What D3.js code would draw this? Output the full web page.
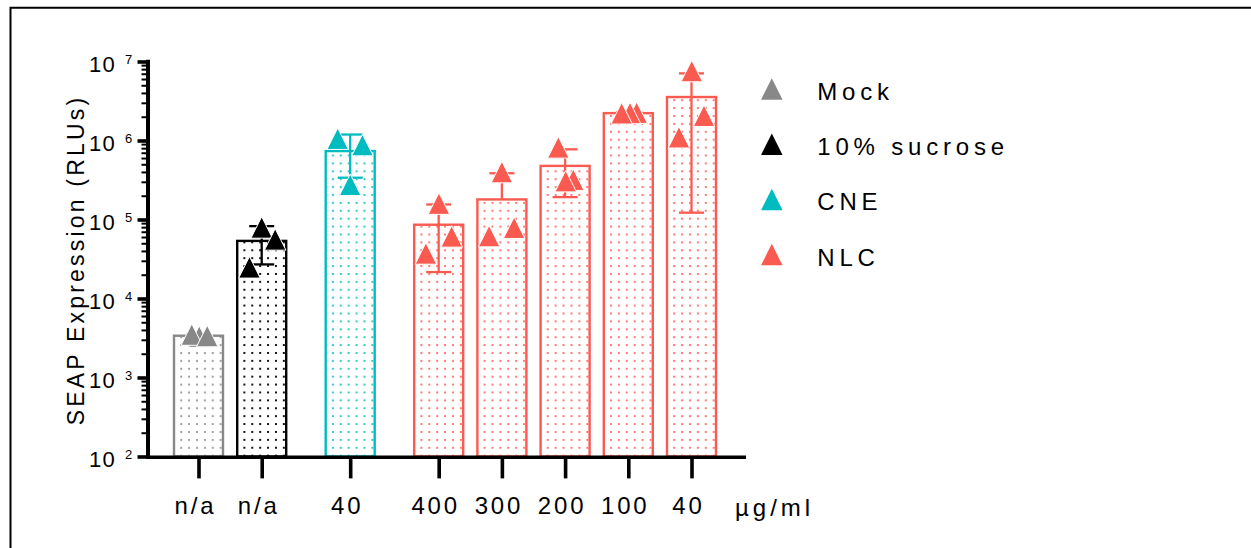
<!DOCTYPE html>
<html>
<head>
<meta charset="utf-8">
<script src="https://cdn.jsdelivr.net/npm/d3@7"></script>
<style>
  html, body { margin: 0; padding: 0; background: #fff; }
  svg { display: block; }
  text { font-family: "Liberation Sans", Arial, Helvetica, sans-serif; fill: #000; }
</style>
</head>
<body>
<svg id="chart" width="1251" height="548"></svg>
<script>
// ---------------- data ----------------
const categories = ["n/a", "n/a", "40", "400", "300", "200", "100", "40"];
const barSeries  = ["Mock", "10% sucrose", "CNE", "NLC", "NLC", "NLC", "NLC", "NLC"];
const barGroup   = [0, 0, 1, 2, 2, 2, 2, 2];
const barValues  = [3380, 53600, 735000, 85900, 179500, 477000, 2220000, 3550000];
const errHigh    = [3480, 82400, 1190000, 155000, 385000, 773000, 2270000, 7070000];
const errLow     = [3280, 27000, 338000, 21600, null, 192000, 2170000, 122000];
const pointValues = [
  [3300, 3500, 3350],
  [79400, 56000, 24800],
  [1054000, 875000, 275000],
  [159000, 61100, 37200],
  [398000, 61600, 78700],
  [818000, 319000, 306000],
  [2250000, 2230000, 2210000],
  [7570000, 2060000, 1100000]
];
const pointJitter = [
  [0.06, -0.54, 0.7],
  [0, 1.08, -0.98],
  [-1, 0.98, 0],
  [0.02, 1.04, -1.02],
  [0, -1.02, 0.98],
  [-0.54, 0.66, 0.05],
  [0.67, 0.14, -0.53],
  [0.02, 1.0, -1.0]
];
const legendNames = ["Mock", "10% sucrose", "CNE", "NLC"];
const yTickExponents = [2, 3, 4, 5, 6, 7];
const unitLabel = "\u00b5g/ml";
const yTitle = "SEAP Expression (RLUs)";

// ---------------- styles ----------------
const colors = { "Mock": "#888888", "10% sucrose": "#000000", "CNE": "#00BCC0", "NLC": "#FA5A50" };

const svg = d3.select("#chart");

// frame
svg.append("path")
  .attr("d", "M10.5,560 V7.7 H1260")
  .attr("fill", "none").attr("stroke", "#000").attr("stroke-width", 2);

// scales
const gapFrac = 0.4;
const positions = categories.map((c, i) => i + barGroup[i] * gapFrac);
const x = d3.scaleLinear().domain([0, d3.max(positions)]).range([198.5, 691.5]);
const y = d3.scaleLog().domain([1e2, 1e7]).range([456.5, 61.5]);
const barW = 49;
const jitterUnit = 12.5;
const axisX = 148;
const baseY = 457.3;

// patterns
const defs = svg.append("defs");
positions.forEach((p, i) => {
  const left = x(p) - barW / 2;
  const pat = defs.append("pattern")
    .attr("id", "dots" + i)
    .attr("patternUnits", "userSpaceOnUse")
    .attr("x", left + 4.2).attr("y", 456.5 - 3.8)
    .attr("width", 7.9).attr("height", 7.9);
  pat.append("rect").attr("width", 7.9).attr("height", 7.9).attr("fill", "#fff");
  const blk = barSeries[i] === "10% sucrose";
  pat.append("rect").attr("x", 2).attr("y", 2)
    .attr("width", blk ? 1.9 : 2).attr("height", blk ? 1.9 : 2)
    .attr("fill", colors[barSeries[i]])
    .attr("fill-opacity", blk ? 1 : 0.8);
});

// bars
const gBars = svg.append("g");
positions.forEach((p, i) => {
  const c = colors[barSeries[i]];
  gBars.append("rect")
    .attr("x", x(p) - barW / 2)
    .attr("y", y(barValues[i]))
    .attr("width", barW)
    .attr("height", y(1e2) - y(barValues[i]))
    .attr("fill", "url(#dots" + i + ")")
    .attr("stroke", c)
    .attr("stroke-width", 2.4);
});

// error bars
const gErr = svg.append("g");
const capW = 25;
positions.forEach((p, i) => {
  const c = colors[barSeries[i]];
  const cx = x(p);
  const lowV = errLow[i] == null ? barValues[i] : errLow[i];
  gErr.append("line").attr("x1", cx).attr("x2", cx)
    .attr("y1", y(lowV)).attr("y2", y(errHigh[i]))
    .attr("stroke", c).attr("stroke-width", 2.3);
  gErr.append("line").attr("x1", cx - capW / 2).attr("x2", cx + capW / 2)
    .attr("y1", y(errHigh[i])).attr("y2", y(errHigh[i]))
    .attr("stroke", c).attr("stroke-width", 2.3);
  if (errLow[i] != null) {
    gErr.append("line").attr("x1", cx - capW / 2).attr("x2", cx + capW / 2)
      .attr("y1", y(errLow[i])).attr("y2", y(errLow[i]))
      .attr("stroke", c).attr("stroke-width", 2.3);
  }
});

// points
const triW = 21.5, triH = 21.5;
const triPath = `M0,${-triH / 2} L${triW / 2},${triH / 2} L${-triW / 2},${triH / 2} Z`;
const gPts = svg.append("g");
positions.forEach((p, i) => {
  const c = colors[barSeries[i]];
  pointValues[i].forEach((v, j) => {
    gPts.append("path")
      .attr("d", triPath)
      .attr("transform", `translate(${x(p) + pointJitter[i][j] * jitterUnit},${y(v)})`)
      .attr("fill", c)
      .attr("stroke", "#fff").attr("stroke-width", 1);
  });
});

// y axis ticks
const majors = yTickExponents.map(e => Math.pow(10, e));
const minors = [];
for (let e = 2; e < 7; e++) for (let k = 2; k <= 9; k++) minors.push(k * Math.pow(10, e));

const gyMinor = svg.append("g").attr("transform", `translate(${axisX},0)`)
  .call(d3.axisLeft(y).tickValues(minors).tickSize(6.5).tickSizeOuter(0).tickFormat(""));
gyMinor.select(".domain").remove();
gyMinor.selectAll(".tick line").attr("stroke", "#000").attr("stroke-width", 2);

const gyMajor = svg.append("g").attr("transform", `translate(${axisX},0)`)
  .call(d3.axisLeft(y).tickValues(majors).tickSize(10.5).tickSizeOuter(0).tickFormat(""));
gyMajor.select(".domain").remove();
gyMajor.selectAll(".tick line").attr("stroke", "#000").attr("stroke-width", 3.6);

// axis lines
svg.append("line").attr("x1", axisX).attr("x2", axisX).attr("y1", 59.7).attr("y2", baseY + 1.7)
  .attr("stroke", "#000").attr("stroke-width", 4);
svg.append("line").attr("x1", axisX - 2).attr("x2", 746).attr("y1", baseY).attr("y2", baseY)
  .attr("stroke", "#000").attr("stroke-width", 3.4);

// y tick labels
const gyl = svg.append("g");
yTickExponents.forEach(e => {
  const ty = y(Math.pow(10, e));
  gyl.append("text").attr("x", 89).attr("y", ty + 10.4)
    .attr("font-size", 22).attr("letter-spacing", 1.2).text("10");
  gyl.append("text").attr("x", 125).attr("y", ty + 2)
    .attr("font-size", 13).text(String(e));
});

// x axis ticks
const gx = svg.append("g").attr("transform", `translate(0,${baseY + 1.6})`)
  .call(d3.axisBottom(x).tickValues(positions).tickSize(19.5).tickSizeOuter(0).tickFormat(""));
gx.select(".domain").remove();
gx.selectAll(".tick line").attr("stroke", "#000").attr("stroke-width", 3.6);

// x labels
const gxl = svg.append("g");
positions.forEach((p, i) => {
  gxl.append("text").attr("x", x(p) - 3).attr("y", 513.5)
    .attr("text-anchor", "middle").attr("font-size", 24).attr("letter-spacing", 2.8)
    .text(categories[i]);
});
svg.append("text").attr("x", 735).attr("y", 516)
  .attr("font-size", 24).attr("letter-spacing", 4).text(unitLabel);

// y title
svg.append("text")
  .attr("transform", "translate(83.5,260) rotate(-90)")
  .attr("text-anchor", "middle").attr("font-size", 23).attr("letter-spacing", 3.2)
  .text(yTitle);

// legend
const gLeg = svg.append("g");
legendNames.forEach((n, i) => {
  const cy = 89 + i * 55.2;
  gLeg.append("path").attr("d", triPath)
    .attr("transform", `translate(771.8,${cy})`)
    .attr("fill", colors[n]);
  gLeg.append("text").attr("x", 817.3).attr("y", cy + 11)
    .attr("font-size", 24).attr("letter-spacing", 4.8).text(n);
});
</script>
</body>
</html>
